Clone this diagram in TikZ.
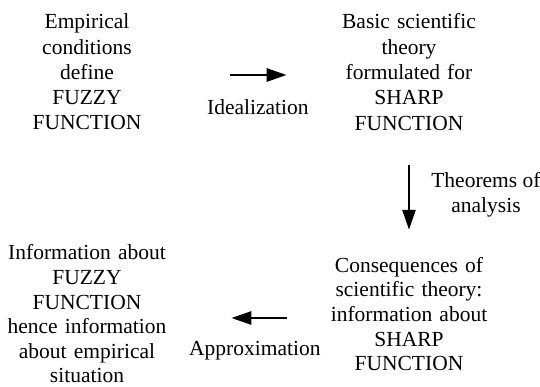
\documentclass[tikz,border=0pt]{standalone}
\usepackage{fontspec}
\setmainfont{Liberation Serif}
\usetikzlibrary{positioning,arrows.meta}
\begin{document}
\begin{tikzpicture}[x=1pt,y=-1pt,>={Triangle[length=20pt,width=13pt]},line width=2.7pt,
	main node/.style={align=center,text width=170pt,inner sep=0pt,font=\fontsize{21.5}{25.3}\selectfont},
	tight node/.style={main node,font=\fontsize{21.5}{24.6}\selectfont},
	arrow label/.style={inner sep=0pt,align=center,font=\fontsize{21.5}{25}\selectfont}]
		
		\useasboundingbox (0,0) rectangle (540,387);
		
		\node[main node] (1) at (87,72) {Empirical\\conditions\\define\\FUZZY\\FUNCTION};
		\node[main node] (2) [right of=1, node distance=322pt] {Basic scientific\\theory\\formulated for\\SHARP\\FUNCTION};
		\node[tight node] (3) [below of=2, node distance=242pt] {Consequences of\\scientific theory:\\information about\\SHARP\\FUNCTION};
		\node[tight node] (4) [left of=3, node distance=322pt] {Information about\\FUZZY\\FUNCTION\\hence information\\about empirical\\situation};
		
		\path[->]
		([yshift=-3pt]1.east) edge[shorten <=57pt, shorten >=36pt] node[arrow label, pos=0.566, below=23pt] {Idealization} ([yshift=-3pt]2.west)
		(2) edge[shorten <=33pt, shorten >=26pt] node[arrow label, pos=0.51, right=21pt] {Theorems of\\analysis} (3)
		([yshift=-4pt]3.west) edge[shorten <=36pt, shorten >=58pt] node[arrow label, pos=0.454, below=22pt] {Approximation} ([yshift=-4pt]4.east);
		
		\end{tikzpicture}
\end{document}
